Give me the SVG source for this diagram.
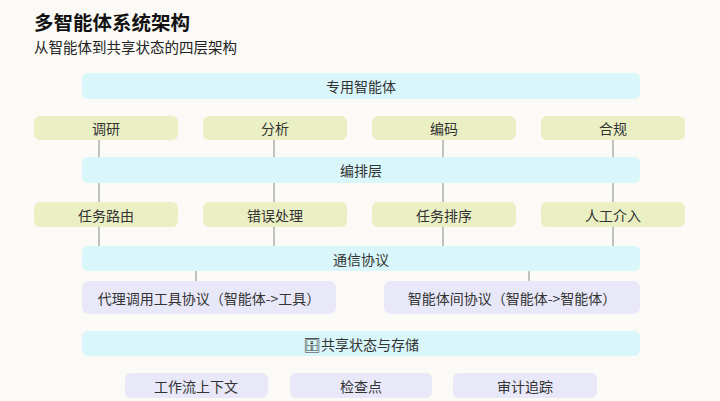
<svg xmlns="http://www.w3.org/2000/svg" width="720" height="401" viewBox="0 0 720 401">
<style>
text{font-family:"Noto Sans CJK SC","Noto Sans",sans-serif;fill:#333;font-size:14px;text-anchor:middle;dominant-baseline:central}
.bar{fill:#d9f6fa}
.ag{fill:#eaf0c4}
.pr{fill:#e8e8f8}
.ln{stroke:#888;stroke-width:1}
</style>
<rect width="720" height="401" fill="#fbfaf6"/>
<text x="34" y="21" style="font-size:19.5px;font-weight:bold;text-anchor:start;fill:#111">多智能体系统架构</text>
<text x="34" y="46" style="font-size:14.5px;text-anchor:start;fill:#222">从智能体到共享状态的四层架构</text>
<g id="connectors">
<line class="ln" x1="99" y1="140" x2="99" y2="157"/><line class="ln" x1="274" y1="140" x2="274" y2="157"/><line class="ln" x1="443" y1="140" x2="443" y2="157"/><line class="ln" x1="613" y1="140" x2="613" y2="157"/>
<line class="ln" x1="99" y1="183" x2="99" y2="202"/><line class="ln" x1="274" y1="183" x2="274" y2="202"/><line class="ln" x1="443" y1="183" x2="443" y2="202"/><line class="ln" x1="613" y1="183" x2="613" y2="202"/>
<line class="ln" x1="99" y1="227" x2="99" y2="246"/><line class="ln" x1="274" y1="227" x2="274" y2="246"/><line class="ln" x1="443" y1="227" x2="443" y2="246"/><line class="ln" x1="613" y1="227" x2="613" y2="246"/>
<line class="ln" x1="196" y1="271" x2="196" y2="281"/><line class="ln" x1="529" y1="271" x2="529" y2="281"/>
</g>
<g id="agents-layer"><rect class="bar" x="82" y="73" width="558" height="26" rx="6"/><text x="361" y="86">专用智能体</text></g>
<g id="a1"><rect class="ag" x="34" y="116" width="144" height="24" rx="6"/><text x="106" y="128">调研</text></g>
<g id="a2"><rect class="ag" x="203" y="116" width="144" height="24" rx="6"/><text x="275" y="128">分析</text></g>
<g id="a3"><rect class="ag" x="372" y="116" width="144" height="24" rx="6"/><text x="444" y="128">编码</text></g>
<g id="a4"><rect class="ag" x="541" y="116" width="144" height="24" rx="6"/><text x="613" y="128">合规</text></g>
<g id="orch"><rect class="bar" x="82" y="157" width="558" height="26" rx="6"/><text x="361" y="170">编排层</text></g>
<g id="o1"><rect class="ag" x="34" y="202" width="144" height="25" rx="6"/><text x="106" y="214.5">任务路由</text></g>
<g id="o2"><rect class="ag" x="203" y="202" width="144" height="25" rx="6"/><text x="275" y="214.5">错误处理</text></g>
<g id="o3"><rect class="ag" x="372" y="202" width="144" height="25" rx="6"/><text x="444" y="214.5">任务排序</text></g>
<g id="o4"><rect class="ag" x="541" y="202" width="144" height="25" rx="6"/><text x="613" y="214.5">人工介入</text></g>
<g id="comm"><rect class="bar" x="82" y="246" width="558" height="25" rx="6"/><text x="361" y="258.5">通信协议</text></g>
<g id="p1"><rect class="pr" x="82" y="281" width="254" height="33" rx="7"/><text x="209" y="297.5">代理调用工具协议（智能体-&gt;工具）</text></g>
<g id="p2"><rect class="pr" x="384" y="281" width="256" height="33" rx="7"/><text x="512" y="297.5">智能体间协议（智能体-&gt;智能体）</text></g>
<g id="store"><rect class="bar" x="82" y="331" width="558" height="25" rx="6"/><text x="361" y="343.5">🗄共享状态与存储</text></g>
<g id="s1"><rect class="pr" x="125" y="373" width="143" height="25" rx="6"/><text x="196" y="385.5">工作流上下文</text></g>
<g id="s2"><rect class="pr" x="290" y="373" width="142" height="25" rx="6"/><text x="361" y="385.5">检查点</text></g>
<g id="s3"><rect class="pr" x="453" y="373" width="144" height="25" rx="6"/><text x="525" y="385.5">审计追踪</text></g>
</svg>
